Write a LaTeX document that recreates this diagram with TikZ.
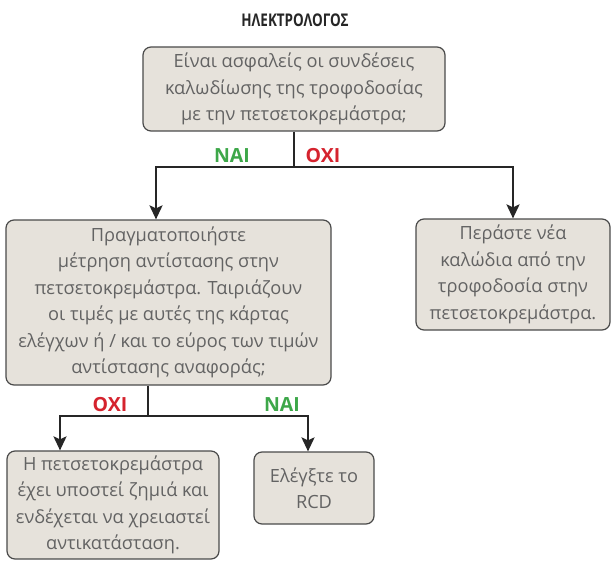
\documentclass[tikz,border=0pt]{standalone}
\usepackage{fontspec}
\setmainfont{Open Sans}
\usetikzlibrary{arrows.meta}

\definecolor{boxfill}{HTML}{E6E2DB}
\definecolor{boxline}{HTML}{4A4A4A}
\definecolor{boxtext}{HTML}{636363}
\definecolor{yesgreen}{HTML}{3DA749}
\definecolor{nored}{HTML}{D5232E}

\begin{document}
\begin{tikzpicture}[x=1pt,y=-1pt,
  every node/.style={inner sep=0pt},
  stepbox/.style={draw=boxline,line width=1.2pt,fill=boxfill,rounded corners=8pt,
    align=center,text=boxtext,font=\fontsize{18.2}{26.5}\selectfont},
  conn/.style={draw=black!85,line width=2.4pt},
  arr/.style={conn,-{Stealth[length=14pt,width=13pt,inset=3pt]}},
  yes/.style={text=yesgreen,font=\fontsize{19.5}{22}\selectfont\bfseries},
  no/.style={text=nored,font=\fontsize{19.5}{22}\selectfont\bfseries}]
\useasboundingbox (0,0) rectangle (612,561);
% title
\node[xscale=0.77] (title) at (295,20) {\fontsize{17.5}{20}\selectfont\bfseries\color{black!85}ΗΛΕΚΤΡΟΛΟΓΟΣ};
% boxes
\node[stepbox,minimum width=302pt,minimum height=84pt] (q1) at (294,89)
  {Είναι ασφαλείς οι συνδέσεις\\καλωδίωσης της τροφοδοσίας\\με την πετσετοκρεμάστρα;};
\node[stepbox,minimum width=325pt,minimum height=165pt] (q2) at (168.5,302.5)
  {Πραγματοποιήστε\\μέτρηση αντίστασης στην\\πετσετοκρεμάστρα. Ταιριάζουν\\οι τιμές με αυτές της κάρτας\\ελέγχων ή / και το εύρος των τιμών\\αντίστασης αναφοράς;};
\node[stepbox,minimum width=194pt,minimum height=111pt] (a1) at (513,274.5)
  {Περάστε νέα\\καλώδια από την\\τροφοδοσία στην\\πετσετοκρεμάστρα.};
\node[stepbox,minimum width=212pt,minimum height=108pt] (a2) at (113,505)
  {Η πετσετοκρεμάστρα\\έχει υποστεί ζημιά και\\ενδέχεται να χρειαστεί\\αντικατάσταση.};
\node[stepbox,minimum width=120pt,minimum height=72pt] (a3) at (314,488)
  {Ελέγξτε το\\RCD};
% connectors
\coordinate (s1) at (294,167);
\coordinate (s2) at (148,416);
\draw[conn] (q1.south) -- (s1);
\draw[arr] (s1) -| ([xshift=-12.5pt]q2.north);
\draw[arr] (s1) -| (a1.north);
\draw[conn] ([xshift=-20.5pt]q2.south) -- (s2);
\draw[arr] (s2) -| ([xshift=-53pt]a2.north);
\draw[arr] (s2) -| ([xshift=-6pt]a3.north);
% labels
\node[yes] (y1) at (232,156) {ΝΑΙ};
\node[no] (n1) at (323,156) {ΟΧΙ};
\node[no] (n2) at (110,405) {ΟΧΙ};
\node[yes] (y2) at (282,405) {ΝΑΙ};
\end{tikzpicture}
\end{document}
